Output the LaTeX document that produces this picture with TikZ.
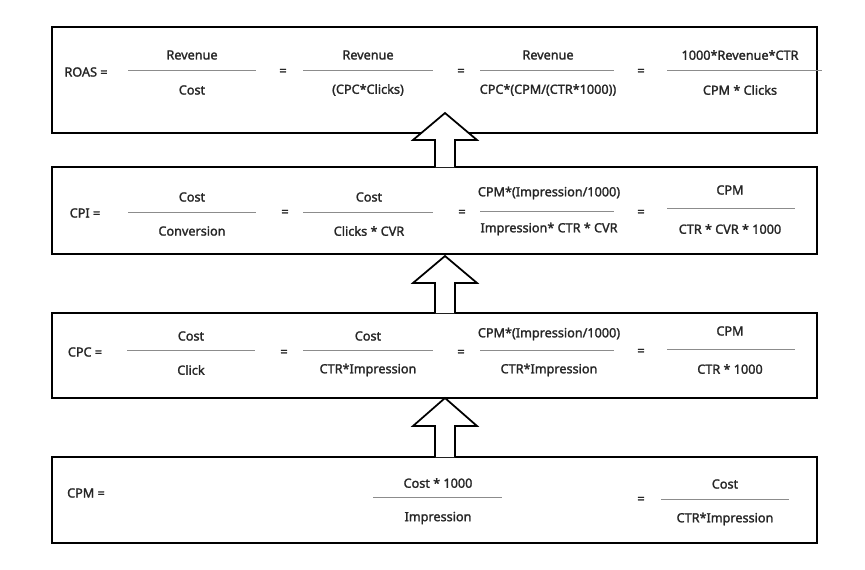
\documentclass[tikz,border=0pt]{standalone}
\usepackage{fontspec}
\setmainfont{Noto Sans}
\newfontfamily\bfnoto[FakeBold=1.8]{Noto Sans}
\begin{document}
\begin{tikzpicture}[x=0.02cm,y=-0.02cm,
  box/.style={draw=black,line width=0.8pt},
  txt/.style={font=\bfnoto\fontsize{7.2}{9}\selectfont,text=black!85,inner sep=0pt},
  fl/.style={draw=black!45,line width=0.5pt},
  blockarrow/.style={draw=black,line width=1pt,fill=white}]
\useasboundingbox (0,0) rectangle (865,569);
\newcommand{\fr}[9]{%
  \node[txt] (#1n) at (#2,#3) {#8};
  \node[txt] (#1d) at (#2,#5) {#9};
  \draw[fl] (#6,#4) -- (#7,#4);}
% boxes
\draw[box] (52,27) rectangle (817,133);
\draw[box] (52,167) rectangle (817,254);
\draw[box] (52,313) rectangle (817,398);
\draw[box] (52,457) rectangle (817,543);
% arrows
\foreach \t/\b/\e in {113/140/167, 256/283/313, 398/426/457}{
  \draw[blockarrow] (435,\e) -- (435,\b) -- (413,\b) -- (445,\t) -- (477,\b) -- (455,\b) -- (455,\e);
}
% ROAS
\node[txt] (l1) at (86,72) {ROAS =};
\fr{a1}{192}{55}{70}{90}{128}{256}{Revenue}{Cost}
\node[txt] (e11) at (283,72) {=};
\fr{a2}{368}{55}{70}{90}{303}{433}{Revenue}{(CPC*Clicks)}
\node[txt] (e12) at (461,72) {=};
\fr{a3}{548}{55}{70}{90}{480}{614}{Revenue}{CPC*(CPM/(CTR*1000))}
\node[txt] (e13) at (641,72) {=};
\fr{a4}{740}{55}{70}{90}{667}{822}{1000*Revenue*CTR}{CPM * Clicks}
% CPI
\node[txt] (l2) at (85,213) {CPI =};
\fr{b1}{192}{197}{212}{231}{128}{256}{Cost}{Conversion}
\node[txt] (e21) at (285,213) {=};
\fr{b2}{369}{197}{212}{231}{303}{433}{Cost}{Clicks * CVR}
\node[txt] (e22) at (462,213) {=};
\fr{b3}{549}{193}{211}{229}{480}{614}{CPM*(Impression/1000)}{Impression* CTR * CVR}
\node[txt] (e23) at (641,213) {=};
\fr{b4}{730}{190}{208}{229}{667}{795}{CPM}{CTR * CVR * 1000}
% CPC
\node[txt] (l3) at (85,352) {CPC =};
\fr{c1}{191}{336}{350}{370}{127}{255}{Cost}{Click}
\node[txt] (e31) at (284,353) {=};
\fr{c2}{368}{336}{350}{370}{303}{433}{Cost}{CTR*Impression}
\node[txt] (e32) at (461,353) {=};
\fr{c3}{549}{334}{350}{370}{480}{614}{CPM*(Impression/1000)}{CTR*Impression}
\node[txt] (e33) at (641,352) {=};
\fr{c4}{730}{331}{349}{369}{667}{795}{CPM}{CTR * 1000}
% CPM
\node[txt] (l4) at (86,493) {CPM =};
\fr{d1}{438}{483}{497}{518}{373}{502}{Cost * 1000}{Impression}
\node[txt] (e41) at (641,500) {=};
\fr{d2}{725}{484}{499}{519}{661}{789}{Cost}{CTR*Impression}
\end{tikzpicture}
\end{document}
